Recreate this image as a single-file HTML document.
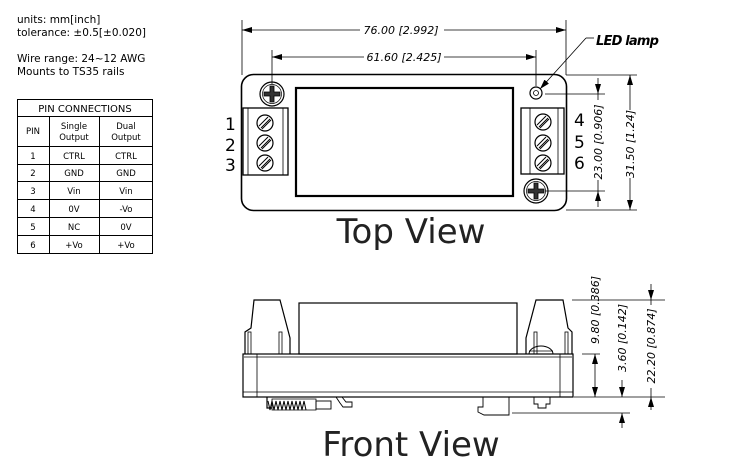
<!DOCTYPE html>
<html><head><meta charset="utf-8"><style>
html,body{margin:0;padding:0;background:#fff;}
svg{display:block}
text{font-family:"DejaVu Sans","Liberation Sans",sans-serif;}
</style></head><body>
<svg width="754" height="463" viewBox="0 0 754 463" xmlns="http://www.w3.org/2000/svg">
<defs>
<marker id="a" markerWidth="10" markerHeight="6" refX="10" refY="3" orient="auto" markerUnits="userSpaceOnUse"><path d="M0,0 L10,3 L0,6 z" fill="#000"/></marker>
<marker id="b" markerWidth="10" markerHeight="6" refX="0" refY="3" orient="auto" markerUnits="userSpaceOnUse"><path d="M10,0 L0,3 L10,6 z" fill="#000"/></marker>
<g id="scr"><circle r="8" fill="none" stroke="#000" stroke-width="1.2"/><line x1="-4" y1="5" x2="5" y2="-4" stroke="#000" stroke-width="1"/><line x1="-6" y1="3" x2="3" y2="-6" stroke="#000" stroke-width="1"/><line x1="-3" y1="6" x2="6" y2="-3" stroke="#000" stroke-width="1"/></g>
<g id="ph"><circle r="12" fill="none" stroke="#000" stroke-width="1.2"/><circle r="9.5" fill="none" stroke="#000" stroke-width="0.7"/><path d="M-2,-8 h4 v6 h6 v4 h-6 v6 h-4 v-6 h-6 v-4 h6 z" fill="#333" stroke="#000" stroke-width="0.8"/></g>
</defs>
<g font-size="10.5" fill="#000">
<text x="17" y="23">units: mm[inch]</text>
<text x="17" y="36">tolerance: ±0.5[±0.020]</text>
<text x="17" y="62">Wire range: 24~12 AWG</text>
<text x="17" y="75">Mounts to TS35 rails</text>
</g>
<g stroke="#000" stroke-width="1" fill="none">
<rect x="17.5" y="99.5" width="135" height="154"/>
<line x1="17.5" y1="116.5" x2="152.5" y2="116.5"/>
<line x1="17.5" y1="146.5" x2="152.5" y2="146.5"/>
<line x1="17.5" y1="164.5" x2="152.5" y2="164.5"/>
<line x1="17.5" y1="181.5" x2="152.5" y2="181.5"/>
<line x1="17.5" y1="199.5" x2="152.5" y2="199.5"/>
<line x1="17.5" y1="217.5" x2="152.5" y2="217.5"/>
<line x1="17.5" y1="235.5" x2="152.5" y2="235.5"/>
<line x1="49.5" y1="116.5" x2="49.5" y2="253.5"/>
<line x1="99.5" y1="116.5" x2="99.5" y2="253.5"/>
</g>
<g font-size="8.5" text-anchor="middle" fill="#000">
<text x="85" y="112" font-size="10">PIN CONNECTIONS</text>
<text x="33" y="134">PIN</text>
<text x="74" y="129">Single</text><text x="74" y="140">Output</text>
<text x="126" y="129">Dual</text><text x="126" y="140">Output</text>
<text x="33" y="159">1</text><text x="74" y="159">CTRL</text><text x="126" y="159">CTRL</text>
<text x="33" y="176">2</text><text x="74" y="176">GND</text><text x="126" y="176">GND</text>
<text x="33" y="194">3</text><text x="74" y="194">Vin</text><text x="126" y="194">Vin</text>
<text x="33" y="212">4</text><text x="74" y="212">0V</text><text x="126" y="212">-Vo</text>
<text x="33" y="230">5</text><text x="74" y="230">NC</text><text x="126" y="230">0V</text>
<text x="33" y="248">6</text><text x="74" y="248">+Vo</text><text x="126" y="248">+Vo</text>
</g>

<!-- TOP VIEW -->
<g stroke="#000" fill="none">
<rect x="241.5" y="74.5" width="325" height="136" rx="12" stroke-width="1.6"/>
<rect x="296" y="88" width="217" height="108" stroke-width="2.2"/>
<rect x="243" y="108" width="45" height="67" stroke-width="1.3"/>
<line x1="248" y1="108" x2="248" y2="175" stroke-width="0.8"/>
<line x1="283" y1="108" x2="283" y2="175" stroke-width="0.8"/>
<rect x="521" y="108" width="43" height="66" stroke-width="1.3"/>
<line x1="530" y1="108" x2="530" y2="174" stroke-width="0.8"/>
<line x1="558" y1="108" x2="558" y2="174" stroke-width="0.8"/>
<circle cx="536" cy="93" r="6" stroke-width="1.2"/><circle cx="536" cy="93" r="2.5" stroke-width="0.8"/>
</g>
<use href="#ph" x="272" y="94"/>
<use href="#ph" x="536" y="191"/>
<use href="#scr" x="265" y="123"/><use href="#scr" x="265" y="143"/><use href="#scr" x="265" y="163"/>
<use href="#scr" x="543" y="122"/><use href="#scr" x="543" y="143"/><use href="#scr" x="543" y="163"/>
<g font-size="17" fill="#000">
<text x="225" y="130">1</text><text x="225" y="151">2</text><text x="225" y="171">3</text>
<text x="574" y="126">4</text><text x="574" y="148">5</text><text x="574" y="169">6</text>
</g>
<g stroke="#000" stroke-width="0.8" fill="none">
<line x1="242" y1="20" x2="242" y2="75"/><line x1="566" y1="20" x2="566" y2="75"/>
<line x1="272" y1="50" x2="272" y2="84"/><line x1="536" y1="50" x2="536" y2="86"/>
<line x1="360" y1="30" x2="242" y2="30" marker-end="url(#a)"/><line x1="444" y1="30" x2="566" y2="30" marker-end="url(#a)"/>
<line x1="364" y1="57" x2="272" y2="57" marker-end="url(#a)"/><line x1="444" y1="57" x2="536" y2="57" marker-end="url(#a)"/>
<line x1="566" y1="75" x2="637" y2="75"/><line x1="566" y1="210" x2="637" y2="210"/>
<line x1="545" y1="94" x2="605" y2="94"/><line x1="545" y1="191" x2="605" y2="191"/>
<line x1="598" y1="78" x2="598" y2="94" marker-end="url(#a)"/><line x1="598" y1="207" x2="598" y2="191" marker-end="url(#a)"/>
<line x1="598" y1="94" x2="598" y2="100"/><line x1="598" y1="180" x2="598" y2="191"/>
<line x1="630" y1="110" x2="630" y2="75" marker-end="url(#a)"/><line x1="630" y1="178" x2="630" y2="210" marker-end="url(#a)"/>
<line x1="586" y1="38" x2="540" y2="89" marker-end="url(#a)"/><line x1="586" y1="38" x2="594" y2="38"/>
</g>
<g font-size="11" font-style="italic" fill="#000">
<text x="401" y="34" text-anchor="middle">76.00 [2.992]</text>
<text x="404" y="61" text-anchor="middle">61.60 [2.425]</text>
<text transform="translate(602,142) rotate(-90)" text-anchor="middle">23.00 [0.906]</text>
<text transform="translate(634,144) rotate(-90)" text-anchor="middle">31.50 [1.24]</text>
</g>
<text x="596" y="45" font-family="Liberation Sans" font-size="13" font-weight="bold" font-style="italic" letter-spacing="-0.8">LED lamp</text>
<text x="411" y="243" font-size="34" text-anchor="middle" fill="#222">Top View</text>

<!-- FRONT VIEW -->
<g stroke="#000" fill="none" stroke-width="1.2">
<rect x="243" y="354" width="330" height="43"/>
<line x1="243" y1="392" x2="573" y2="392" stroke-width="0.8"/>
<line x1="257" y1="354" x2="257" y2="397" stroke-width="0.8"/>
<line x1="560" y1="354" x2="560" y2="397" stroke-width="0.8"/>
<line x1="244" y1="357" x2="572" y2="357" stroke-width="0.8"/>
<rect x="299" y="303" width="218" height="51"/>
<path d="M245,354 V332 L251,328 L254,300 H280 L290,338 V354"/>
<rect x="248" y="332" width="3" height="22" stroke-width="0.8"/><rect x="279" y="332" width="3" height="22" stroke-width="0.8"/>
<path d="M526,354 V338 L536,300 H563 L568,328 L572,332 V354"/>
<rect x="534" y="332" width="3" height="22" stroke-width="0.8"/><rect x="565" y="332" width="3" height="22" stroke-width="0.8"/>
<path d="M529,354 A12,8 0 0 1 553,354" stroke-width="1"/>
<line x1="529" y1="351" x2="553" y2="351" stroke-width="0.7"/>
<path d="M267,397 V408 H272"/>
<path d="M272,399 h44 v11 h-44 z" stroke-width="0.8"/>
<path d="M268,401 l2,9 l2,-9 l2,9 l2,-9 l2,9 l2,-9 l2,9 l2,-9 l2,9 l2,-9 l2,9 l2,-9 l2,9 l2,-9 l2,9 l2,-9 l2,9 l2,-9 l2,9" stroke-width="1"/>
<rect x="316" y="401" width="15" height="8" stroke-width="0.9"/>
<path d="M336,397 l4,6 l3,4 h9 v-5 h-6 l-4,-5" stroke-width="0.9"/>
<path d="M483,397 v10 h-5 v5 l6,3 h25 v-18" stroke-width="0.9"/>
<path d="M534,397 v7 h4 v4 h8 v-4 h4 v-7" stroke-width="0.9"/>
</g>
<g stroke="#000" stroke-width="0.8" fill="none">
<line x1="572" y1="300" x2="665" y2="300"/>
<line x1="574" y1="397" x2="665" y2="397"/>
<line x1="512" y1="413" x2="630" y2="413"/>
<line x1="595" y1="354" x2="595" y2="397" marker-start="url(#b)" marker-end="url(#a)"/>
<line x1="582" y1="354" x2="600" y2="354"/>
<line x1="622" y1="380" x2="622" y2="397" marker-end="url(#a)"/><line x1="622" y1="428" x2="622" y2="413" marker-end="url(#a)"/>
<line x1="651" y1="284" x2="651" y2="300" marker-end="url(#a)"/><line x1="651" y1="410" x2="651" y2="397" marker-end="url(#a)"/>
<line x1="651" y1="300" x2="651" y2="305"/><line x1="651" y1="388" x2="651" y2="397"/>
</g>
<g font-size="11" font-style="italic" fill="#000">
<text transform="translate(599,310) rotate(-90)" text-anchor="middle">9.80 [0.386]</text>
<text transform="translate(626,338) rotate(-90)" text-anchor="middle">3.60 [0.142]</text>
<text transform="translate(655,346) rotate(-90)" text-anchor="middle">22.20 [0.874]</text>
</g>
<text x="411" y="456" font-size="34" text-anchor="middle" fill="#222">Front View</text>
</svg>
</body></html>
